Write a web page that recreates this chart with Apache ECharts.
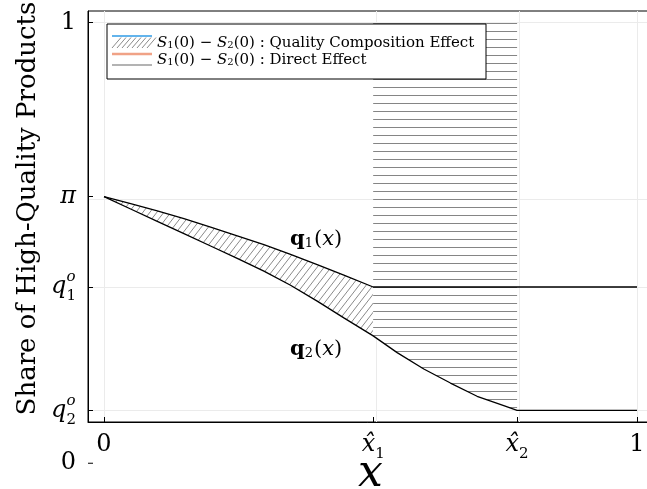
<!DOCTYPE html>
<html>
<head>
<meta charset="utf-8">
<script src="https://cdn.jsdelivr.net/npm/echarts@6/dist/echarts.min.js"></script>
<style>
html, body { margin: 0; padding: 0; background: #fff; }
#chart { width: 647px; height: 489px; }
</style>
</head>
<body>
<div id="chart"></div>
<script>
// values
var xHat = [0.505, 0.775];
var xTicks = [0, 0.505, 0.775, 1];
var xTickLabels = ['0', 'x̂|1', 'x̂|2', '1'];
var yTicks = [0.12, 0.40, 0.605, 1];
var yTickLabels = ['q2o', 'q1o', 'pi', '1'];

var q1X = [0, 0.05, 0.1, 0.15, 0.2, 0.25, 0.3, 0.35, 0.4, 0.45, 0.505, 1];
var q1Y = [0.605, 0.589, 0.573, 0.555, 0.536, 0.516, 0.496, 0.474, 0.451, 0.427, 0.400, 0.400];
var q2X = [0, 0.05, 0.1, 0.15, 0.2, 0.25, 0.3, 0.35, 0.4, 0.45, 0.505, 0.55, 0.6, 0.65, 0.7, 0.75, 0.775, 1];
var q2Y = [0.605, 0.577, 0.549, 0.521, 0.493, 0.465, 0.436, 0.404, 0.368, 0.330, 0.289, 0.251, 0.214, 0.182, 0.152, 0.131, 0.120, 0.120];
var topY = 1;

var SERIF = '"DejaVu Serif", "Liberation Serif", serif';

function pairs(xs, ys){
	var out = [];
	for(var i=0; i<xs.length; i++){
		out.push([xs[i], ys[i]]);
	}
	return out;
}

// hatch tiles
function makeHatch(w, h, diag, color){
	var c = document.createElement('canvas');
	c.width = w; c.height = h;
	var ctx = c.getContext('2d');
	ctx.fillStyle = '#fff';
	ctx.fillRect(0, 0, w, h);
	if(diag){
		ctx.strokeStyle = color;
		ctx.lineWidth = 1;
		for(var k=-1; k<=1; k++){
			ctx.beginPath();
			ctx.moveTo(k*w - w, 2*h);
			ctx.lineTo(k*w + 2*w, -h);
			ctx.stroke();
		}
	}else{
		ctx.fillStyle = color;
		ctx.fillRect(0, h-1, w, 1);
	}
	return c;
}
var diagTile = makeHatch(7, 9, true, '#8a8a8a');
var horizTile = makeHatch(8, 8, false, '#858585');

// polygon between two curves, upper edge left->right then lower edge back
function regionItem(upper, lower, tile){
	return function(params, api){
		var pts = [];
		for(var i=0; i<upper.length; i++) pts.push(api.coord(upper[i]));
		for(var j=lower.length-1; j>=0; j--) pts.push(api.coord(lower[j]));
		return {
			type: 'polygon',
			shape: {points: pts},
			style: {fill: {image: tile, repeat: 'repeat'}, stroke: null, lineWidth: 0}
		};
	};
}

// quality composition region: q2 .. q1 on [0, xHat1]
var compUpper = [], compLower = [];
for(var i=0; i<q1X.length; i++){
	if(q1X[i] > xHat[0]) break;
	compUpper.push([q1X[i], q1Y[i]]);
	compLower.push([q2X[i], q2Y[i]]);
}
// direct effect region: q2 .. 1 on [xHat1, xHat2]
var dirUpper = [], dirLower = [];
for(var i=0; i<q2X.length; i++){
	if(q2X[i] < xHat[0] || q2X[i] > xHat[1]) continue;
	dirUpper.push([q2X[i], topY]);
	dirLower.push([q2X[i], q2Y[i]]);
}

var yMin = yTicks[0] - 0.03 * (topY - yTicks[0]);
var yMax = topY + 0.03 * (topY - yTicks[0]);

var mathRich = {
	m: {fontFamily: SERIF, fontStyle: 'italic', fontSize: 24, lineHeight: 34, align: 'left', color: '#000'},
	n: {fontFamily: SERIF, fontSize: 24, lineHeight: 34, align: 'left', color: '#000'},
	sp: {fontFamily: SERIF, fontStyle: 'italic', fontSize: 15, verticalAlign: 'top', width: 0, align: 'left', color: '#000'},
	sb: {fontFamily: SERIF, fontSize: 15, verticalAlign: 'bottom', align: 'left', color: '#000'}
};

function yLabel(v){
	for(var i=0; i<yTicks.length; i++){
		if(Math.abs(yTicks[i]-v) < 1e-6){
			var t = yTickLabels[i];
			if(t == 'pi') return '{m|π}';
			if(t == '1') return '{n|1}';
			return '{m|q}{sp|o}{sb|' + t.charAt(1) + '}';
		}
	}
	return '';
}
function xLabel(v){
	for(var i=0; i<xTicks.length; i++){
		if(Math.abs(xTicks[i]-v) < 1e-6){
			var t = xTickLabels[i].split('|');
			if(t.length == 1) return '{n|' + t[0] + '}';
			return '{m|' + t[0] + '}{sb|' + t[1] + '}';
		}
	}
	return '';
}

var gridLines = [];
for(var i=0; i<xTicks.length; i++) gridLines.push({xAxis: xTicks[i]});
for(var i=0; i<yTicks.length; i++) gridLines.push({yAxis: yTicks[i]});

var curveLabel = {
	b: {fontFamily: SERIF, fontWeight: 'bold', fontSize: 21, color: '#000'},
	s: {fontFamily: SERIF, fontSize: 13, verticalAlign: 'bottom', color: '#000', padding: [0, 1, 0, 0]},
	n: {fontFamily: SERIF, fontSize: 21, color: '#000'},
	i: {fontFamily: SERIF, fontStyle: 'italic', fontSize: 21, color: '#000'}
};

var chart = echarts.init(document.getElementById('chart'), null, {renderer: 'canvas'});

var option = {
	animation: false,
	backgroundColor: '#fff',
	grid: {left: 88, right: -6, top: 11, bottom: 67, outerBoundsMode: 'none', containLabel: false,
		show: true, borderColor: '#000', borderWidth: 1, backgroundColor: 'transparent'},
	xAxis: {
		type: 'value', min: -0.03, max: 1.03,
		name: 'x', nameLocation: 'middle', nameGap: 31, nameMoveOverlap: false,
		nameTextStyle: {fontFamily: SERIF, fontStyle: 'italic', fontSize: 44, color: '#000'},
		axisLine: {show: true, onZero: false, lineStyle: {color: '#000', width: 1}},
		axisTick: {show: true, inside: true, length: 5, customValues: xTicks, lineStyle: {color: '#000'}},
		axisLabel: {customValues: xTicks, formatter: xLabel, margin: 6, rich: mathRich, showMinLabel: true, showMaxLabel: true},
		splitLine: {show: false}
	},
	yAxis: {
		type: 'value', min: yMin, max: yMax,
		name: 'Share of High-Quality Products', nameLocation: 'middle', nameGap: 47, nameMoveOverlap: false,
		nameTextStyle: {fontFamily: SERIF, fontSize: 26, color: '#000', padding: [0, 0, 0, 16]},
		axisLine: {show: true, onZero: false, lineStyle: {color: '#000', width: 1}},
		axisTick: {show: true, inside: true, length: 5, customValues: yTicks, lineStyle: {color: '#000'}},
		axisLabel: {customValues: yTicks, formatter: yLabel, margin: 12, rich: mathRich},
		splitLine: {show: false}
	},
	series: [
		{
			type: 'line', data: [], symbol: 'none', silent: true, z: 0,
			markLine: {
				silent: true, z: 0, symbol: ['none', 'none'], label: {show: false},
				lineStyle: {color: '#ebebeb', type: 'solid', width: 1},
				data: gridLines
			}
		},
		{
			type: 'custom', data: [[0, 0.5]], silent: true, z: 2, clip: true,
			renderItem: regionItem(compUpper, compLower, diagTile)
		},
		{
			type: 'custom', data: [[0.6, 0.5]], silent: true, z: 2, clip: true,
			renderItem: regionItem(dirUpper, dirLower, horizTile)
		},
		{
			type: 'line', data: pairs(q1X, q1Y), symbol: 'none', z: 5,
			lineStyle: {color: '#000', width: 1.3},
			markPoint: {
				symbol: 'circle', symbolSize: 0, silent: true,
				label: {show: true, position: 'inside', formatter: '{b|q}{s|1}{n|(}{i|x}{n|)}', rich: curveLabel},
				data: [{coord: [0.398, 0.507]}]
			}
		},
		{
			type: 'line', data: pairs(q2X, q2Y), symbol: 'none', z: 5,
			lineStyle: {color: '#000', width: 1.3},
			markPoint: {
				symbol: 'circle', symbolSize: 0, silent: true,
				label: {show: true, position: 'inside', formatter: '{b|q}{s|2}{n|(}{i|x}{n|)}', rich: curveLabel},
				data: [{coord: [0.398, 0.257]}]
			}
		}
	]
};
chart.setOption(option);

// legend box and the stray "0" tick that sits below the frame
var legendRich = {
	i: {fontFamily: SERIF, fontStyle: 'italic', fontSize: 15, color: '#000'},
	r: {fontFamily: SERIF, fontSize: 15, color: '#000'},
	s: {fontFamily: SERIF, fontSize: 10, verticalAlign: 'bottom', color: '#000'}
};
var hatch = [];
for(var k=0; k<8; k++){
	hatch.push({type: 'line', z: 101, shape: {x1: 112 + k*5, y1: 48, x2: 121 + k*5, y2: 37.5},
		style: {stroke: '#8a8a8a', lineWidth: 1}});
}
var zeroY = chart.convertToPixel({yAxisIndex: 0}, 0);
var axisX = chart.convertToPixel({xAxisIndex: 0}, -0.03);

chart.setOption({
	graphic: [
		{type: 'rect', z: 100, shape: {x: 107, y: 24, width: 379, height: 55}, style: {fill: '#fff', stroke: '#000', lineWidth: 1}},
		{type: 'group', z: 101, children: hatch},
		{type: 'line', z: 102, shape: {x1: 112, y1: 36, x2: 152, y2: 36}, style: {stroke: '#2f9be6', lineWidth: 1.5}},
		{type: 'line', z: 102, shape: {x1: 112, y1: 54, x2: 152, y2: 54}, style: {stroke: '#f0a286', lineWidth: 2.5}},
		{type: 'line', z: 102, shape: {x1: 112, y1: 65, x2: 152, y2: 65}, style: {stroke: '#9a9a9a', lineWidth: 1.5}},
		{type: 'text', z: 102, x: 157, y: 43, style: {text: '{i|S}{s|1}{r|(0) − }{i|S}{s|2}{r|(0) : Quality Composition Effect}', rich: legendRich, verticalAlign: 'middle'}},
		{type: 'text', z: 102, x: 157, y: 60, style: {text: '{i|S}{s|1}{r|(0) − }{i|S}{s|2}{r|(0) : Direct Effect}', rich: legendRich, verticalAlign: 'middle'}},
		{type: 'text', z: 102, x: axisX - 12, y: zeroY, style: {text: '0', fontFamily: SERIF, fontSize: 24, fill: '#000', align: 'right', verticalAlign: 'middle'}},
		{type: 'line', z: 102, shape: {x1: axisX, y1: zeroY, x2: axisX + 5, y2: zeroY}, style: {stroke: '#000', lineWidth: 1}}
	]
});
</script>
</body>
</html>
